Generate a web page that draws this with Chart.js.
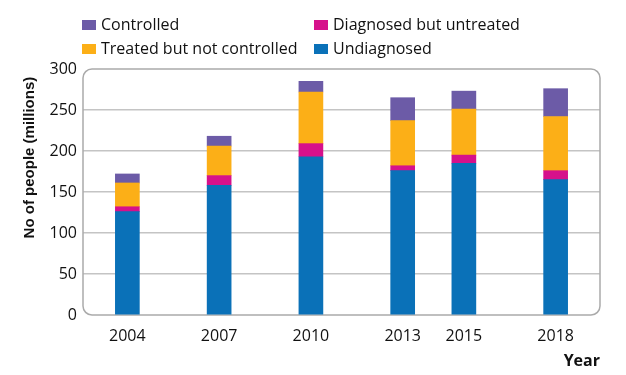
<!DOCTYPE html>
<html>
<head>
<meta charset="utf-8">
<script src="https://cdn.jsdelivr.net/npm/chart.js@4/dist/chart.umd.min.js"></script>
<style>
    body { margin: 0; background: #fff; font-family: "Open Sans", sans-serif; }
    #wrap { position: relative; width: 626px; height: 375px; }
    .legend { position: absolute; font-size: 16px; color: #111; line-height: 20px; }
    .legend span.box { display: inline-block; width: 14px; height: 10px; margin-right: 5px; vertical-align: 0px; }
</style>
</head>
<body>
<div id="wrap">
    <canvas id="chart" width="626" height="375"></canvas>
    <div class="legend" style="left:82px; top:14px;"><span class="box" style="background:#6c5ba7"></span>Controlled</div>
    <div class="legend" style="left:314px; top:14px;"><span class="box" style="background:#d6118b"></span>Diagnosed but untreated</div>
    <div class="legend" style="left:82px; top:38px;"><span class="box" style="background:#fcaf17"></span>Treated but not controlled</div>
    <div class="legend" style="left:314px; top:38px;"><span class="box" style="background:#0a71b8"></span>Undiagnosed</div>
</div>
<script>
// data
const years = [2004, 2007, 2010, 2013, 2015, 2018];
const undiagnosed = [126, 158, 193, 176, 185, 165];
const diagnosedUntreated = [6, 12, 16, 6, 10, 11];
const treatedNotControlled = [29, 36, 63, 55, 56, 66];
const controlled = [11, 12, 13, 28, 22, 34];
const yTicks = [0, 50, 100, 150, 200, 250, 300];
const yTitle = 'No of people (millions)';

const toPoints = arr => arr.map((v, i) => ({ x: years[i], y: v }));

// rounded frame round the plot area
const framePlugin = {
    id: 'frame',
    beforeDatasetsDraw(chart) {
        const { ctx, chartArea: a } = chart;
        ctx.save();
        ctx.strokeStyle = '#aaaaaa';
        ctx.lineWidth = 1.5;
        ctx.beginPath();
        ctx.roundRect(a.left, a.top, a.right - a.left, a.bottom - a.top, 9);
        ctx.stroke();
        ctx.restore();
    },
    // y title sits a bit above the middle of the plot in the original
    afterDraw(chart) {
        const { ctx, chartArea: a } = chart;
        ctx.save();
        ctx.translate(30, a.top + (a.bottom - a.top) * 0.36);
        ctx.rotate(-Math.PI / 2);
        ctx.font = 'bold 15px "Liberation Sans"';
        ctx.fillStyle = '#111';
        ctx.textAlign = 'center';
        ctx.textBaseline = 'middle';
        ctx.fillText(yTitle, 0, 0);
        ctx.restore();
    }
};

new Chart(document.getElementById('chart'), {
    type: 'bar',
    data: {
        datasets: [
            { label: 'Undiagnosed', data: toPoints(undiagnosed), backgroundColor: '#0a71b8' },
            { label: 'Diagnosed but untreated', data: toPoints(diagnosedUntreated), backgroundColor: '#d6118b' },
            { label: 'Treated but not controlled', data: toPoints(treatedNotControlled), backgroundColor: '#fcaf17' },
            { label: 'Controlled', data: toPoints(controlled), backgroundColor: '#6c5ba7' }
        ]
    },
    options: {
        responsive: false,
        animation: false,
        barThickness: 24,
        layout: { padding: { top: 69, right: 26, left: 0, bottom: 0 } },
        plugins: { legend: { display: false }, tooltip: { enabled: false } },
        scales: {
            x: {
                type: 'linear',
                stacked: true,
                offset: false,
                min: 2002.55,
                max: 2019.45,
                afterBuildTicks: s => { s.ticks = years.map(v => ({ value: v })); },
                afterFit: s => { s.height = 60; },
                grid: { display: false },
                border: { display: false },
                ticks: {
                    autoSkip: false,
                    maxRotation: 0,
                    padding: 4,
                    color: '#111',
                    font: { family: 'Open Sans', size: 16 },
                    callback: v => String(v)
                },
                title: {
                    display: true,
                    text: 'Year',
                    align: 'end',
                    color: '#111',
                    font: { family: 'Open Sans', size: 16, weight: 'bold' },
                    padding: { top: 6 }
                }
            },
            y: {
                stacked: true,
                min: 0,
                max: 300,
                afterBuildTicks: s => { s.ticks = yTicks.map(v => ({ value: v })); },
                afterFit: s => { s.width = 83; },
                grid: {
                    color: ctx => (ctx.tick.value === 0 || ctx.tick.value === 300) ? 'rgba(0,0,0,0)' : '#c4c4c4',
                    lineWidth: 1.5,
                    drawTicks: false
                },
                border: { display: false },
                ticks: {
                    padding: 6,
                    color: '#111',
                    font: { family: 'Open Sans', size: 16 }
                },
                title: { display: false }
            }
        }
    },
    plugins: [framePlugin]
});
</script>
</body>
</html>
